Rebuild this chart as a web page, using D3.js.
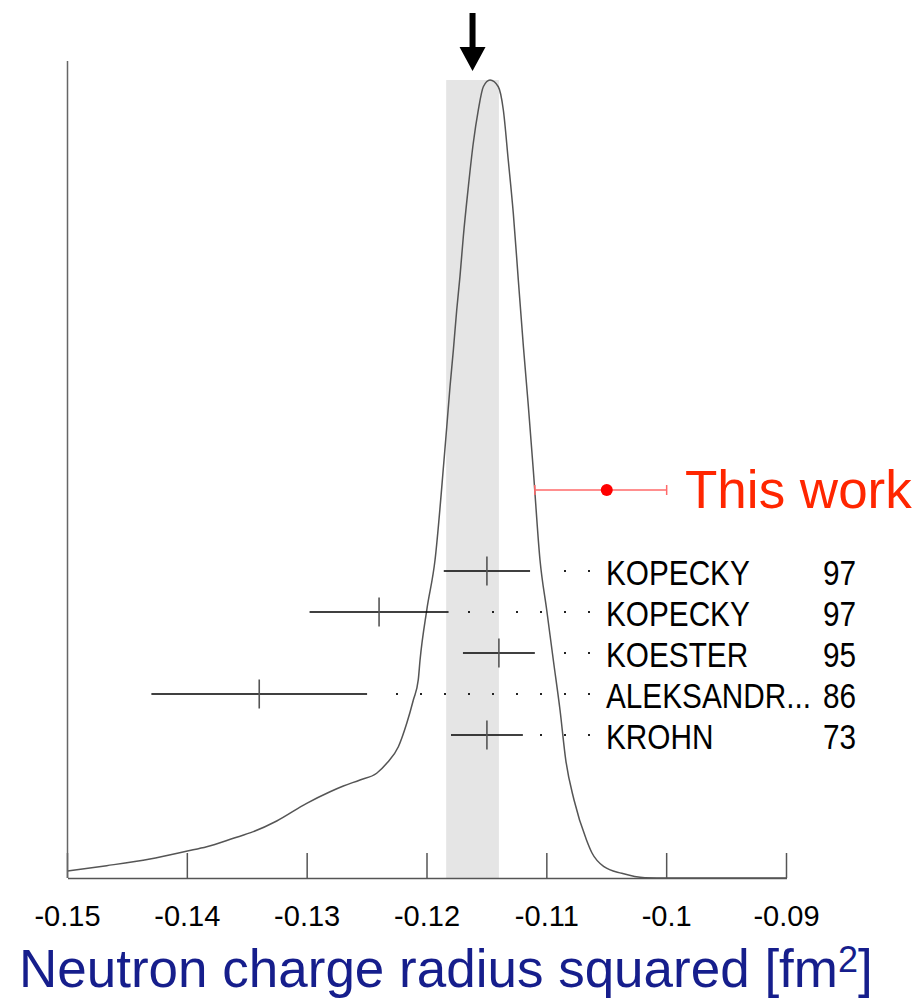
<!DOCTYPE html>
<html>
<head>
<meta charset="utf-8">
<script src="https://cdn.jsdelivr.net/npm/d3@7/dist/d3.min.js"></script>
<style>
  html, body { margin: 0; padding: 0; background: #fff; }
  svg { display: block; font-family: "Liberation Sans", Arial, Helvetica, sans-serif; }
</style>
</head>
<body>
<svg id="chart" width="917" height="999"></svg>
<script>
// Measurements of the neutron charge radius squared [fm^2]
const labels = ["KOPECKY", "KOPECKY", "KOESTER", "ALEKSANDR...", "KROHN"];
const years = ["97", "97", "95", "86", "73"];
const values = [-0.1150, -0.1240, -0.1140, -0.1340, -0.1150];
const errors = [0.0036, 0.0058, 0.0030, 0.0090, 0.0030];

// New result with asymmetric bounds
const thisWork = { label: "This work", value: -0.105, lower: -0.111, upper: -0.100 };

// Weighted average and its uncertainty
const average = -0.1162;
const averageError = 0.0022;

// Ideogram curve (x value, relative density)
const curveX = [-0.1500, -0.14673, -0.14312, -0.14000, -0.13838, -0.13616, -0.13449, -0.13254,
  -0.13004, -0.12809, -0.12698, -0.12559, -0.12420, -0.12336, -0.12239, -0.12169, -0.12114,
  -0.12073, -0.12058, -0.12002, -0.11933, -0.11858, -0.11835, -0.11808, -0.11780, -0.11752,
  -0.11725, -0.11697, -0.11655, -0.11614, -0.11572, -0.11530, -0.11474, -0.11405, -0.11363,
  -0.11322, -0.11280, -0.11238, -0.11196, -0.11155, -0.11113, -0.11057, -0.11001, -0.10946,
  -0.10890, -0.10842, -0.10773, -0.10669, -0.10623, -0.10523, -0.10375, -0.10181, -0.09984, -0.0900];
const curveY = [0.0086, 0.0151, 0.0233, 0.0330, 0.0383, 0.0486, 0.0567, 0.0698,
  0.0914, 0.1056, 0.1126, 0.1200, 0.1282, 0.1404, 0.1607, 0.1894, 0.2179,
  0.2424, 0.2668, 0.3280, 0.3892, 0.5116, 0.5524, 0.6013, 0.6463, 0.6952,
  0.7360, 0.7849, 0.8461, 0.8993, 0.9400, 0.9685, 0.9767, 0.9685, 0.9400,
  0.8788, 0.8139, 0.7320, 0.6512, 0.5790, 0.4994, 0.3892, 0.3280, 0.2668,
  0.2056, 0.1444, 0.0955, 0.0465, 0.0306, 0.0138, 0.0058, 0.0004, 0.0, 0.0];

const tickValues = [-0.15, -0.14, -0.13, -0.12, -0.11, -0.10, -0.09];
const tickLabels = ["-0.15", "-0.14", "-0.13", "-0.12", "-0.11", "-0.1", "-0.09"];
const axisTitle = "Neutron charge radius squared [fm";

const svg = d3.select("#chart");

const x = d3.scaleLinear().domain([-0.15, -0.09]).range([67.5, 786.5]);
const y = d3.scaleLinear().domain([0, 1]).range([878, 61]);
const row = d3.scalePoint().domain(d3.range(labels.length)).range([571, 735]);
const thisWorkY = 490;

const peak = d3.max(curveY);

// Average band
svg.append("rect")
  .attr("x", x(average - averageError))
  .attr("y", y(peak))
  .attr("width", x(average + averageError) - x(average - averageError))
  .attr("height", y(0) - y(peak))
  .attr("fill", "#e5e5e5");

// Arrow marking the average
const ax = x(average);
svg.append("path")
  .attr("d", `M${ax - 3},13 L${ax + 3},13 L${ax + 3},47 L${ax + 13},47 L${ax},71 L${ax - 13},47 L${ax - 3},47 Z`)
  .attr("fill", "#000");

// Ideogram
const pts = curveX.map((v, i) => [v, curveY[i]]);
svg.append("path")
  .datum(pts)
  .attr("fill", "none")
  .attr("stroke", "#555")
  .attr("stroke-width", 1.5)
  .attr("d", d3.line().x(d => x(d[0])).y(d => y(d[1])).curve(d3.curveMonotoneX));

// Axes
const xAxis = d3.axisBottom(x).tickValues(tickValues).tickSize(0).tickFormat("");
const gx = svg.append("g").attr("transform", `translate(0,${y(0)})`).call(xAxis);
gx.select(".domain").attr("stroke", "#555").attr("stroke-width", 1.5);

svg.append("g").selectAll("line")
  .data(tickValues)
  .join("line")
  .attr("x1", d => x(d)).attr("x2", d => x(d))
  .attr("y1", y(0) - 25).attr("y2", y(0))
  .attr("stroke", "#555").attr("stroke-width", 1.5);

svg.append("line")
  .attr("x1", x(-0.15)).attr("x2", x(-0.15))
  .attr("y1", y(1)).attr("y2", y(0))
  .attr("stroke", "#666").attr("stroke-width", 1.5);

svg.append("g").selectAll("text")
  .data(tickValues)
  .join("text")
  .attr("x", d => x(d))
  .attr("y", 926)
  .attr("text-anchor", "middle")
  .attr("font-size", 29)
  .attr("fill", "#000")
  .text((d, i) => tickLabels[i]);

// Axis title with superscript
const title = svg.append("text")
  .attr("x", 19)
  .attr("y", 987)
  .attr("font-size", 53)
  .attr("fill", "#161e8c");
title.append("tspan").text(axisTitle);
title.append("tspan").attr("font-size", 36).attr("dy", -15).text("2");
title.append("tspan").attr("dy", 15).text("]");

// Measurement rows
const labelX = 606;
const rows = svg.append("g");
labels.forEach((lab, i) => {
  const cy = row(i);
  const lo = x(values[i] - errors[i]);
  const hi = x(values[i] + errors[i]);
  rows.append("line")
    .attr("x1", lo).attr("x2", hi).attr("y1", cy).attr("y2", cy)
    .attr("stroke", "#000").attr("stroke-width", 1.4);
  rows.append("line")
    .attr("x1", x(values[i])).attr("x2", x(values[i]))
    .attr("y1", cy - 14.5).attr("y2", cy + 14.5)
    .attr("stroke", "#555").attr("stroke-width", 1.6);
  // dotted leader toward the label
  for (let px = labelX - 17; px > hi + 15; px -= 24) {
    rows.append("rect")
      .attr("x", px - 1).attr("y", cy - 1)
      .attr("width", 2).attr("height", 2)
      .attr("fill", "#222");
  }
  rows.append("text")
    .attr("transform", `translate(${labelX},${cy + 13.5}) scale(0.85,1)`)
    .attr("font-size", 35)
    .attr("fill", "#000")
    .text(lab);
  rows.append("text")
    .attr("transform", `translate(823,${cy + 13.5}) scale(0.85,1)`)
    .attr("font-size", 35)
    .attr("fill", "#000")
    .text(years[i]);
});

// New result
const tw = svg.append("g");
tw.append("line")
  .attr("x1", x(thisWork.lower)).attr("x2", x(thisWork.upper))
  .attr("y1", thisWorkY).attr("y2", thisWorkY)
  .attr("stroke", "#ff6a6a").attr("stroke-width", 1.5);
[thisWork.lower, thisWork.upper].forEach(v => {
  tw.append("line")
    .attr("x1", x(v)).attr("x2", x(v))
    .attr("y1", thisWorkY - 5).attr("y2", thisWorkY + 5)
    .attr("stroke", "#ff6a6a").attr("stroke-width", 1.5);
});
tw.append("circle")
  .attr("cx", x(thisWork.value)).attr("cy", thisWorkY).attr("r", 6)
  .attr("fill", "#ff0000");
tw.append("text")
  .attr("x", 685).attr("y", 508)
  .attr("font-size", 53)
  .attr("fill", "#ff2600")
  .text(thisWork.label);
</script>
</body>
</html>
